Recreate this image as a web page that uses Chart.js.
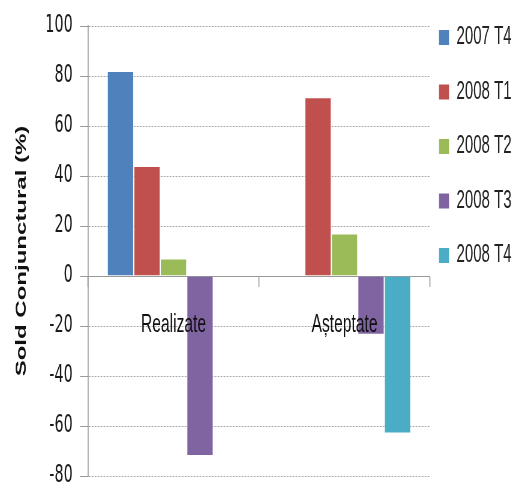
<!DOCTYPE html>
<html><head><meta charset="utf-8">
<script src="https://cdn.jsdelivr.net/npm/chart.js@4/dist/chart.umd.min.js"></script>
<style>html,body{margin:0;padding:0;background:#fff;}</style>
</head><body>
<!-- drawn on a wider canvas and shown horizontally condensed, like the reference's narrow lettering -->
<canvas id="c" width="855" height="485" style="display:block;width:513px;height:485px"></canvas>
<script>
const categories = ['Realizate', 'Așteptate'];
const seriesNames = ['2007 T4', '2008 T1', '2008 T2', '2008 T3', '2008 T4'];
const s2007T4 = [82, null];
const s2008T1 = [44, 71.5];
const s2008T2 = [7, 17];
const s2008T3 = [-72, -23.5];
const s2008T4 = [null, -63];
const yTickValues = [-80, -60, -40, -20, 0, 20, 40, 60, 80, 100];
const yTitle = 'Sold Conjunctural (%)';

const seriesValues = [s2007T4, s2008T1, s2008T2, s2008T3, s2008T4];
const seriesColors = ['#4F81BD', '#C0504D', '#9BBB59', '#8064A2', '#4BACC6'];
const FONT = "'Liberation Sans', Arial, sans-serif";
const SX = 855 / 513; // horizontal drawing scale of the canvas

new Chart(document.getElementById('c'), {
  type: 'bar',
  data: {
    labels: categories,
    datasets: seriesNames.map((name, i) => ({
      label: name,
      data: seriesValues[i],
      backgroundColor: seriesColors[i],
      borderColor: 'rgba(255,255,255,0.45)',
      borderWidth: 1,
      categoryPercentage: 0.775,
      barPercentage: 1
    }))
  },
  options: {
    responsive: false,
    animation: false,
    devicePixelRatio: 1,
    layout: { padding: { top: 10, left: 0, right: 0, bottom: 0 } },
    plugins: {
      tooltip: { enabled: false },
      title: { display: true, text: '', fullSize: false, padding: 0, font: { size: 10, lineHeight: '16px' } },
      legend: {
        position: 'right',
        align: 'start',
        maxWidth: 855 - 430 * SX,
        labels: {
          boxWidth: 10 * SX,
          boxHeight: 15,
          padding: 15,
          color: '#222',
          font: { family: FONT, size: 25, lineHeight: 1.58 },
          generateLabels: (chart) => Chart.defaults.plugins.legend.labels.generateLabels(chart).map(l => Object.assign(l, { text: [l.text], lineWidth: 0 }))
        }
      }
    },
    scales: {
      x: {
        position: { y: 0 },
        offset: true,
        grid: { offset: true, drawOnChartArea: false, drawTicks: true, tickLength: 10, color: '#999', tickWidth: 1.7 },
        border: { color: '#999' },
        ticks: { z: 1, color: '#111', padding: 23, font: { family: FONT, size: 26 } }
      },
      y: {
        min: yTickValues[0],
        max: yTickValues[yTickValues.length - 1],
        afterBuildTicks: (scale) => { scale.ticks = yTickValues.map(v => ({ value: v })); },
        afterFit: (scale) => { scale.width = 88 * SX; scale.paddingTop = 9; scale.paddingBottom = 9; },
        grid: { color: (ctx) => ctx.tick && ctx.tick.value === 0 ? 'rgba(0,0,0,0)' : '#a6a6a6', tickColor: '#999', tickLength: 8 * SX },
        border: { color: '#999', width: 1.7, dash: [3, 2] },
        ticks: { color: '#1a1a1a', padding: 7.3 * SX, font: { family: "'DejaVu Sans', sans-serif", size: 24 } },
        title: { display: true, text: yTitle, color: '#111', padding: { top: 22.3, bottom: 4 }, font: { family: FONT, size: 24, weight: 'bold' } }
      }
    }
  }
});
</script>
</body></html>
